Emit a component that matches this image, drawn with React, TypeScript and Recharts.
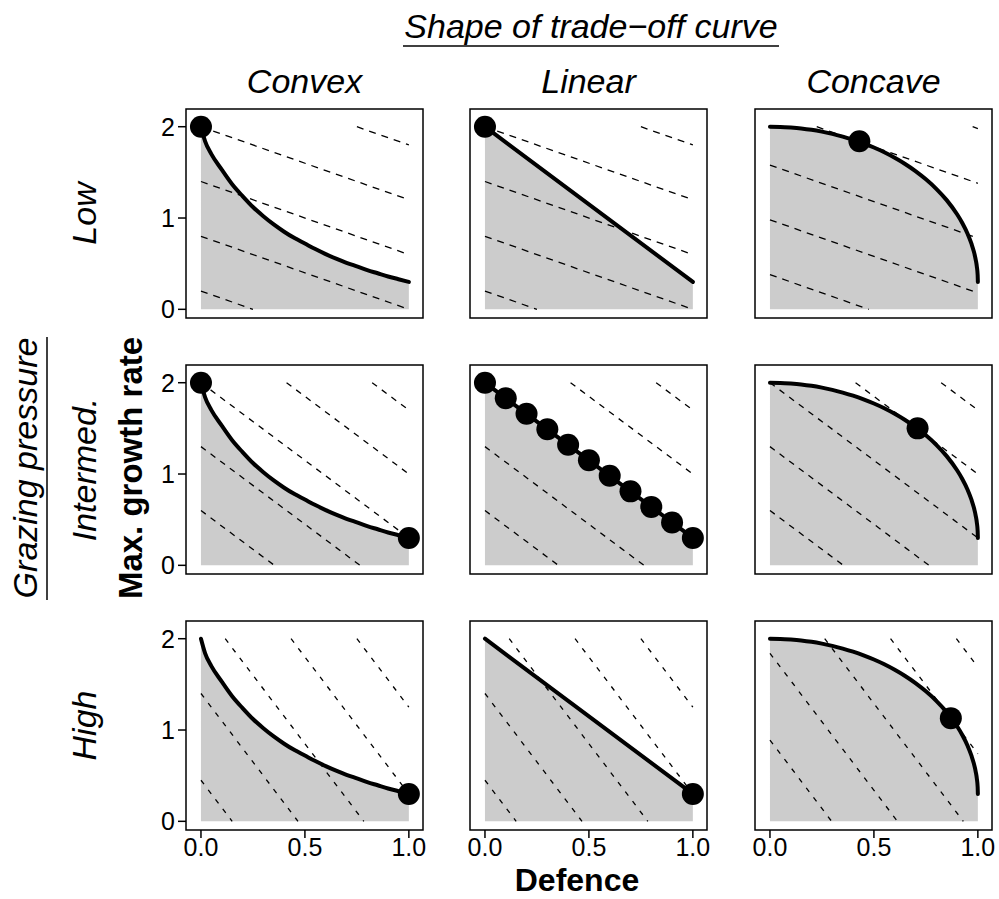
import React from 'react';
import { ComposedChart, Area, Line, Scatter, XAxis, YAxis } from 'recharts';

// trade-off curves (defence -> max. growth rate)
const convexDefence = [0, 0.02, 0.05, 0.1, 0.15, 0.2, 0.25, 0.3, 0.35, 0.4, 0.45, 0.5, 0.55, 0.6, 0.65, 0.7, 0.75, 0.8, 0.85, 0.9, 0.95, 1];
const convexGrowth = [2.0, 1.84, 1.7, 1.53, 1.37, 1.24, 1.12, 1.02, 0.93, 0.85, 0.78, 0.72, 0.66, 0.605, 0.555, 0.51, 0.47, 0.43, 0.395, 0.36, 0.33, 0.3];
const linearDefence = [0, 1];
const linearGrowth = [2.0, 0.3];
const concaveDefence = [0, 0.05, 0.1, 0.15, 0.2, 0.25, 0.3, 0.35, 0.4, 0.45, 0.5, 0.55, 0.6, 0.65, 0.7, 0.75, 0.8, 0.85, 0.9, 0.925, 0.95, 0.97, 0.98, 0.99, 0.995, 0.999, 1];
const concaveGrowth = [2.0, 1.998, 1.991, 1.981, 1.966, 1.946, 1.922, 1.892, 1.858, 1.818, 1.772, 1.72, 1.66, 1.592, 1.514, 1.424, 1.32, 1.196, 1.041, 0.946, 0.831, 0.713, 0.638, 0.54, 0.47, 0.376, 0.3];

const shapeLabels = ['Convex', 'Linear', 'Concave'];
const pressureLabels = ['Low', 'Intermed.', 'High'];

// fitness isoclines: slope per grazing level, intercepts per panel
const isoSlopes = [0.8, 1.7, 3.0];
const isoIntercepts = [
  [[0.2, 0.8, 1.4, 2.0, 2.6], [0.2, 0.8, 1.4, 2.0, 2.6], [0.38, 0.98, 1.58, 2.18, 2.78]],
  [[0.6, 1.3, 2.0, 2.7, 3.4], [0.6, 1.3, 2.0, 2.7, 3.4], [0.6, 1.3, 2.0, 2.7, 3.4]],
  [[0.45, 1.4, 2.35, 3.3, 4.25], [0.45, 1.4, 2.35, 3.3, 4.25], [0.89, 1.84, 2.79, 3.74, 4.69]],
];

// optimal strategies
const optimumDefence = [
  [[0], [0], [0.43]],
  [[0, 1], [0, 0.1, 0.2, 0.3, 0.4, 0.5, 0.6, 0.7, 0.8, 0.9, 1.0], [0.71]],
  [[1], [1], [0.87]],
];
const optimumGrowth = [
  [[2.0], [2.0], [1.84]],
  [[2.0, 0.3], [2.0, 1.83, 1.66, 1.49, 1.32, 1.15, 0.98, 0.81, 0.64, 0.47, 0.3], [1.5]],
  [[0.3], [0.3], [1.13]],
];

const xTicks = [0, 0.5, 1];
const yTicks = [0, 1, 2];

const COL_LEFT = [186, 470, 755];
const ROW_TOP = [109, 365, 621];
const PLOT_W = 237;
const PLOT_H = 209;
const PAD_L = 60;
const PAD_T = 14;
const PAD_R = 14;
const PAD_B = 45;
const X_DOMAIN: [number, number] = [-0.072, 1.068];
const Y_DOMAIN: [number, number] = [-0.095, 2.194];
const DASH = ['7 6', '6 6', '5 7'];
const FONT = '"Liberation Sans", Arial, Helvetica, sans-serif';
const TICK_FONT = 25;

const curves = [
  convexDefence.map((x, i) => ({ x, y: convexGrowth[i] })),
  linearDefence.map((x, i) => ({ x, y: linearGrowth[i] })),
  concaveDefence.map((x, i) => ({ x, y: concaveGrowth[i] })),
];

// clip an isocline y = b - s*x to the box 0..1 x 0..2
function isoSegment(b: number, s: number) {
  const x0 = Math.max(0, (b - 2) / s);
  const x1 = Math.min(1, b / s);
  return [
    { x: x0, y: b - s * x0 },
    { x: x1, y: b - s * x1 },
  ];
}

const bigDot = (p: any) => <circle cx={p.cx} cy={p.cy} r={11} fill="#000" />;

const xTickLabel = (p: any) => (
  <text x={p.x} y={p.y} dy="0.72em" textAnchor="middle" fontSize={TICK_FONT} fontFamily={FONT} fill="#000">
    {Number(p.payload.value).toFixed(1)}
  </text>
);
const yTickLabel = (p: any) => (
  <text x={p.x} y={p.y} dy="0.36em" textAnchor="end" fontSize={TICK_FONT} fontFamily={FONT} fill="#000">
    {p.payload.value}
  </text>
);

function Panel({ row, col }: { row: number; col: number }) {
  const dots = optimumDefence[row][col].map((x, i) => ({ x, y: optimumGrowth[row][col][i] }));
  return (
    <div style={{ position: 'absolute', left: COL_LEFT[col] - PAD_L, top: ROW_TOP[row] - PAD_T }}>
      <ComposedChart
        width={PAD_L + PLOT_W + PAD_R}
        height={PAD_T + PLOT_H + PAD_B}
        data={curves[col]}
        margin={{ top: PAD_T, right: PAD_R, left: 0, bottom: 0 }}
      >
        <XAxis
          type="number"
          dataKey="x"
          domain={X_DOMAIN}
          allowDataOverflow
          ticks={xTicks}
          height={PAD_B}
          tickSize={8}
          tickMargin={0}
          axisLine={false}
          tickLine={{ stroke: '#000', strokeWidth: 1.5 }}
          tick={row === 2 ? xTickLabel : false}
        />
        <YAxis
          type="number"
          domain={Y_DOMAIN}
          allowDataOverflow
          ticks={yTicks}
          width={PAD_L}
          tickSize={8}
          tickMargin={3}
          axisLine={false}
          tickLine={{ stroke: '#000', strokeWidth: 1.5 }}
          tick={col === 0 ? yTickLabel : false}
        />
        <Area
          dataKey="y"
          type="monotone"
          baseValue={0}
          fill="#cccccc"
          fillOpacity={1}
          stroke="none"
          isAnimationActive={false}
        />
        {isoIntercepts[row][col].map((b, i) => (
          <Line
            key={'iso' + i}
            data={isoSegment(b, isoSlopes[row])}
            dataKey="y"
            type="linear"
            stroke="#000"
            strokeWidth={1.3}
            strokeDasharray={DASH[row]}
            dot={false}
            activeDot={false}
            isAnimationActive={false}
          />
        ))}
        <Line
          dataKey="y"
          type="monotone"
          stroke="#000"
          strokeWidth={4}
          strokeLinecap="round"
          dot={false}
          activeDot={false}
          isAnimationActive={false}
        />
        <Scatter data={dots} dataKey="y" shape={bigDot} isAnimationActive={false} />
      </ComposedChart>
    </div>
  );
}

export default function App() {
  const rowCenter = (r: number) => ROW_TOP[r] + PLOT_H / 2;
  const colCenter = (c: number) => COL_LEFT[c] + PLOT_W / 2;
  return (
    <div style={{ position: 'absolute', left: 0, top: 0, width: 999, height: 899, background: '#fff', fontFamily: FONT }}>
      {[0, 1, 2].map((r) => [0, 1, 2].map((c) => <Panel key={r + '-' + c} row={r} col={c} />))}
      <svg width={999} height={899} style={{ position: 'absolute', left: 0, top: 0, pointerEvents: 'none' }}>
        {[0, 1, 2].map((r) =>
          [0, 1, 2].map((c) => (
            <rect
              key={'f' + r + c}
              x={COL_LEFT[c]}
              y={ROW_TOP[r]}
              width={PLOT_W}
              height={PLOT_H}
              fill="none"
              stroke="#000"
              strokeWidth={1.5}
            />
          ))
        )}
        <g fontFamily={FONT} fill="#000">
          <text x={591} y={38} fontSize={34} fontStyle="italic" textAnchor="middle">
            Shape of trade−off curve
          </text>
          <line x1={403} x2={779} y1={46} y2={46} stroke="#000" strokeWidth={1.5} />
          {shapeLabels.map((s, c) => (
            <text key={s} x={colCenter(c)} y={93} fontSize={34} fontStyle="italic" textAnchor="middle">
              {s}
            </text>
          ))}
          {pressureLabels.map((s, r) => (
            <text
              key={s}
              x={96}
              y={rowCenter(r)}
              fontSize={34}
              fontStyle="italic"
              textAnchor="middle"
              transform={`rotate(-90 96 ${rowCenter(r)})`}
            >
              {s}
            </text>
          ))}
          <text x={37} y={468} fontSize={34} fontStyle="italic" textAnchor="middle" transform="rotate(-90 37 468)">
            Grazing pressure
          </text>
          <line x1={47} x2={47} y1={337} y2={600} stroke="#000" strokeWidth={1.5} />
          <text x={142} y={468} fontSize={33} fontWeight="bold" textAnchor="middle" transform="rotate(-90 142 468)">
            Max. growth rate
          </text>
          <text x={577} y={891} fontSize={32} fontWeight="bold" textAnchor="middle">
            Defence
          </text>
        </g>
      </svg>
    </div>
  );
}
